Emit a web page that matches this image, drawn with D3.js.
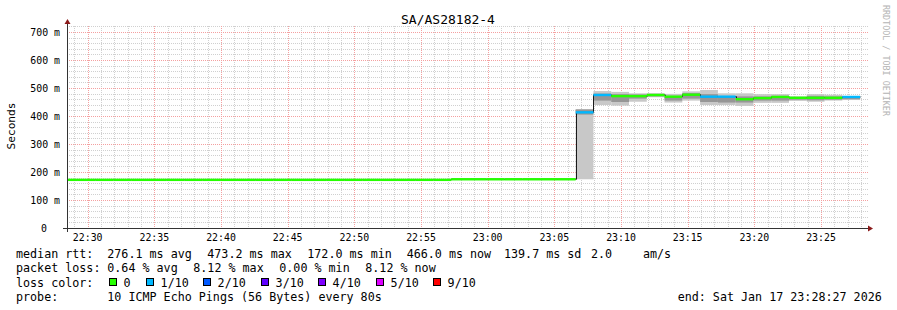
<!DOCTYPE html>
<html lang="en">
<head>
  <meta charset="UTF-8">
  <title>SA/AS28182-4</title>
  <script src="https://cdn.jsdelivr.net/npm/d3@7"></script>
  <style>
    body { margin: 0; background: #fff; }
    svg text { font-family: "DejaVu Sans Mono", monospace; fill: #000; white-space: pre; }
  </style>
</head>
<body>
  <svg id="chart" width="897" height="310"></svg>
  <script>
    // time window and probe step (80 s)
    const startTime = new Date(2026, 0, 17, 22, 28, 27);
    const endTime   = new Date(2026, 0, 17, 23, 28, 27);
    const firstStepEnd = new Date(2026, 0, 17, 22, 29, 16);
    const stepSec = 80;

    // median rtt per step (ms)
    const median = [
      172, 172, 172, 172, 172, 172, 172, 172, 172, 172, 172,
      172, 172, 172, 172, 172, 172, 172, 172, 172, 172, 172,
      174, 174, 174, 174, 174, 174, 174,
      413, 475, 471, 471, 475, 469, 476, 469, 469, 460, 464, 468, 465, 465, 465, 468
    ];
    // lost pings per step (out of 10)
    const lost = [
      0, 0, 0, 0, 0, 0, 0, 0, 0, 0, 0,
      0, 0, 0, 0, 0, 0, 0, 0, 0, 0, 0,
      0, 0, 0, 0, 0, 0, 0,
      1, 1, 0, 0, 0, 0, 0, 1, 1, 0, 0, 0, 0, 0, 0, 1
    ];
    // smoke: outer (min..max) and inner band per step, only where it shows
    const smokeLo = [null, null, null, null, null, null, null, null, null, null, null,
      null, null, null, null, null, null, null, null, null, null, null,
      null, null, null, null, null, null, null,
      174, 439, 437, 451, 467, 448, 455, 439, 439, 436, 447, 447, 454, 451, 455, 457];
    const smokeHi = [null, null, null, null, null, null, null, null, null, null, null,
      null, null, null, null, null, null, null, null, null, null, null,
      null, null, null, null, null, null, null,
      425, 489, 486, 481, 481, 479, 488, 493, 481, 481, 478, 478, 470, 478, 476, 471];
    const innerLo = [null, null, null, null, null, null, null, null, null, null, null,
      null, null, null, null, null, null, null, null, null, null, null,
      null, null, null, null, null, null, null,
      405, 455, 450, 462, 470, 455, 462, 450, 448, 448, 455, 455, 458, 456, 458, 460];
    const innerHi = [null, null, null, null, null, null, null, null, null, null, null,
      null, null, null, null, null, null, null, null, null, null, null,
      null, null, null, null, null, null, null,
      423, 480, 478, 477, 479, 472, 482, 478, 470, 470, 470, 472, 468, 472, 470, 470];

    const lossColors = ['#26ff00', '#00b8ff', '#0059ff', '#5e00ff', '#7e00ff', '#dd00ff', '#ff0000'];
    const lossLabels = ['0', '1/10', '2/10', '3/10', '4/10', '5/10', '9/10'];
    const lossSteps  = [0, 1, 2, 3, 4, 5, 9];

    const yMax = 721.4;
    const yTicks = [0, 100, 200, 300, 400, 500, 600, 700];

    const svg = d3.select('#chart');
    const x = d3.scaleTime().domain([startTime, endTime]).range([67, 867]);
    const y = d3.scaleLinear().domain([0, yMax]).range([228, 26]);

    // steps: [start, end]
    const steps = median.map((m, i) => {
      const end = new Date(firstStepEnd.getTime() + i * stepSec * 1000);
      let start = new Date(end.getTime() - stepSec * 1000);
      if (start < startTime) start = startTime;
      return { i, start, end, m, lost: lost[i], lo: smokeLo[i], hi: smokeHi[i], ilo: innerLo[i], ihi: innerHi[i] };
    });

    // grid
    const grid = svg.append('g');
    const minorX = x.ticks(d3.timeMinute.every(1));
    const majorX = x.ticks(d3.timeMinute.every(5));
    grid.selectAll('.vmin').data(minorX.filter(t => t.getMinutes() % 5 !== 0)).join('line')
      .attr('x1', d => Math.round(x(d)) + 0.5).attr('x2', d => Math.round(x(d)) + 0.5)
      .attr('y1', y(yMax)).attr('y2', 228)
      .attr('stroke', '#d0d0d0').attr('stroke-dasharray', '1,1');
    const minorY = d3.range(20, yMax, 20).filter(v => v % 100 !== 0);
    grid.selectAll('.hmin').data(minorY).join('line')
      .attr('x1', 67).attr('x2', 868)
      .attr('y1', d => Math.round(y(d)) + 0.5).attr('y2', d => Math.round(y(d)) + 0.5)
      .attr('stroke', '#d0d0d0').attr('stroke-dasharray', '1,1');
    grid.selectAll('.vmaj').data(majorX).join('line')
      .attr('x1', d => Math.round(x(d)) + 0.5).attr('x2', d => Math.round(x(d)) + 0.5)
      .attr('y1', y(yMax)).attr('y2', 228)
      .attr('stroke', '#f4a0a0').attr('stroke-dasharray', '1,1');
    grid.selectAll('.hmaj').data(yTicks.filter(v => v > 0)).join('line')
      .attr('x1', 67).attr('x2', 868)
      .attr('y1', d => Math.round(y(d)) + 0.5).attr('y2', d => Math.round(y(d)) + 0.5)
      .attr('stroke', '#f4a0a0').attr('stroke-dasharray', '1,1');

    // smoke
    const plot = svg.append('g');
    const smoke = steps.filter(d => d.lo != null);
    plot.selectAll('.outer').data(smoke).join('rect')
      .attr('x', d => x(d.start)).attr('width', d => x(d.end) - x(d.start))
      .attr('y', d => y(d.hi)).attr('height', d => y(d.lo) - y(d.hi))
      .attr('fill', '#c8c8c8');
    plot.selectAll('.inner').data(smoke).join('rect')
      .attr('x', d => x(d.start)).attr('width', d => x(d.end) - x(d.start))
      .attr('y', d => y(d.ihi)).attr('height', d => y(d.ilo) - y(d.ihi))
      .attr('fill', '#969696');

    // median step line (dark), then loss-coloured band
    const pts = steps.map(d => [d.start, d.m]);
    pts.push([steps[steps.length - 1].end, median[median.length - 1]]);
    plot.append('path')
      .attr('d', d3.line().x(d => Math.round(x(d[0])) + 0.5).y(d => y(d[1])).curve(d3.curveStepAfter)(pts))
      .attr('fill', 'none').attr('stroke', '#1a1a1a').attr('stroke-width', 1);
    plot.selectAll('.med').data(steps).join('rect')
      .attr('x', d => x(d.start)).attr('width', d => x(d.end) - x(d.start))
      .attr('y', d => y(d.m) - 1.2).attr('height', 2.4)
      .attr('fill', d => lossColors[lossSteps.indexOf(d.lost)]);

    // axes
    svg.append('line').attr('x1', 63).attr('x2', 868).attr('y1', 228.5).attr('y2', 228.5)
      .attr('stroke', '#333').attr('stroke-width', 1);
    svg.append('line').attr('x1', 67.5).attr('x2', 67.5).attr('y1', 232).attr('y2', 22)
      .attr('stroke', '#333').attr('stroke-width', 1);
    svg.append('path').attr('d', 'M868,225.5L873,228.5L868,231.5Z').attr('fill', '#8b1a1a');
    svg.append('path').attr('d', 'M64.5,24L67.5,19L70.5,24Z').attr('fill', '#8b1a1a');

    // tick labels
    svg.selectAll('.yl').data(yTicks).join('text')
      .attr('x', d => d === 0 ? 47 : 60).attr('y', d => y(d) + 3.6)
      .attr('text-anchor', 'end').attr('font-size', '9.9px')
      .text(d => d === 0 ? '0' : d + ' m');
    svg.selectAll('.xl').data(majorX).join('text')
      .attr('x', d => x(d)).attr('y', 241)
      .attr('text-anchor', 'middle').attr('font-size', '9.9px')
      .text(d3.timeFormat('%H:%M'));

    svg.append('text').attr('transform', 'translate(15,126) rotate(-90)')
      .attr('text-anchor', 'middle').attr('font-size', '11.2px').text('Seconds');
    svg.append('text').attr('x', 448).attr('y', 24).attr('text-anchor', 'middle')
      .attr('font-size', '13px').text('SA/AS28182-4');
    svg.append('text').attr('transform', 'translate(883,5) rotate(90)')
      .attr('font-size', '8.4px').style('fill', '#b4b4b4').text('RRDTOOL / TOBI OETIKER');

    // legend
    const fs = '11.7px';
    const put = (tx, ty, s) => svg.append('text').attr('x', tx).attr('y', ty).attr('font-size', fs).text(s);
    put(16, 258, 'median rtt:');
    put(107.3, 258, '276.1 ms avg');
    put(207.3, 258, '473.2 ms max');
    put(307.3, 258, '172.0 ms min');
    put(406.7, 258, '466.0 ms now');
    put(504, 258, '139.7 ms sd');
    put(591, 258, '2.0');
    put(643, 258, 'am/s');

    put(16, 272, 'packet loss:');
    put(107.3, 272, '0.64 % avg');
    put(193.3, 272, '8.12 % max');
    put(279.3, 272, '0.00 % min');
    put(365.3, 272, '8.12 % now');

    put(16, 286.5, 'loss color:');
    const legX = d3.scaleLinear().domain([0, 1]).range([108.7, 146]);
    const leg = svg.selectAll('.leg').data(lossColors).join('g')
      .attr('transform', (d, i) => `translate(${Math.round(legX(i) + (i > 1 ? (i - 1) * 20.1 : 0))},0)`);
    leg.append('rect').attr('x', 0.5).attr('y', 278.5).attr('width', 7).attr('height', 7)
      .attr('fill', d => d).attr('stroke', '#000');
    leg.append('text').attr('x', 14.6).attr('y', 286.5).attr('font-size', fs)
      .text((d, i) => lossLabels[i]);

    put(16, 300.5, 'probe:');
    put(107.3, 300.5, '10 ICMP Echo Pings (56 Bytes) every 80s');
    put(677.7, 300.5, 'end: Sat Jan 17 23:28:27 2026');
  </script>
</body>
</html>
